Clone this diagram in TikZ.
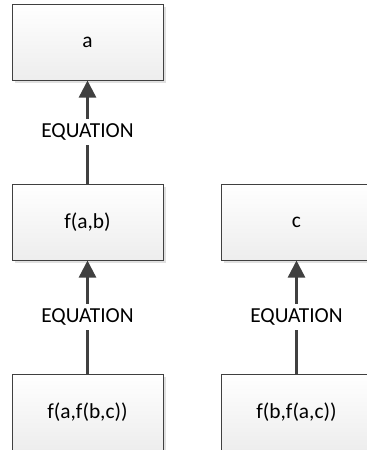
\documentclass[tikz,border=0pt]{standalone}
\usepackage{fontspec}
\setmainfont{Carlito}
\usepackage{tikz}
\usetikzlibrary{arrows.meta,positioning,shadows}
\definecolor{edgegray}{HTML}{404040}

\begin{document}
\begin{tikzpicture}[
font=\fontsize{10.7pt}{12.8pt}\selectfont,
term/.style={draw=edgegray,line width=.5pt,top color=white,bottom color=black!7,minimum width=75.5pt,minimum height=38pt,
  drop shadow={shadow xshift=1.5pt,shadow yshift=-1.5pt,fill=black!12,opacity=1}},
lbl/.style={fill=white,inner sep=2.5pt,text=black},
arr/.style={-{Triangle[length=8.5pt,width=8.5pt]},line width=1.2pt,draw=edgegray}]
\useasboundingbox (0,0) rectangle (183.5pt,-225pt);
\node[term](a) at (43.75pt,-21pt){a};
\node[term,below=51.5pt of a](fab){f(a,b)};
\node[term,below=56.5pt of fab](fafbc){f(a,f(b,c))};
\node[term,right=28.5pt of fab](c){c};
\node[term,right=28.5pt of fafbc](fbfac){f(b,f(a,c))};
\draw[arr](fab)--node[lbl]{EQUATION}(a);
\draw[arr](fafbc)--node[lbl]{EQUATION}(fab);
\draw[arr](fbfac)--node[lbl]{EQUATION}(c);
\end{tikzpicture}
\end{document}
